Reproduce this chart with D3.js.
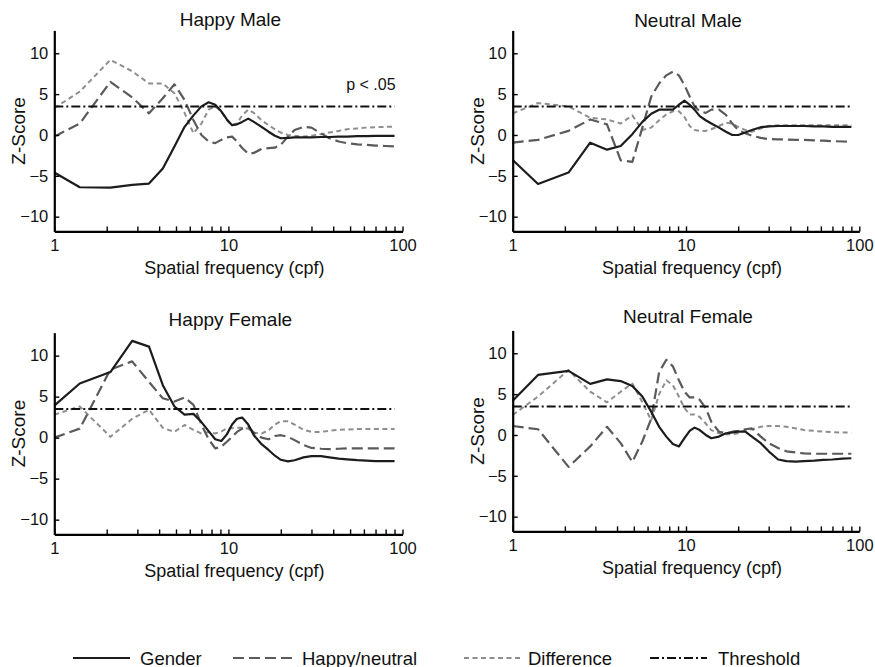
<!DOCTYPE html>
<html>
<head>
<meta charset="utf-8">
<script src="https://cdn.jsdelivr.net/npm/d3@7/dist/d3.min.js"></script>
<style>
  html, body { margin: 0; padding: 0; background: #fff; }
  svg { display: block; font-family: "Liberation Sans", Arial, Helvetica, sans-serif; }
</style>
</head>
<body>
<svg id="chart" width="875" height="667"></svg>
<script>
// ---------------- data ----------------
const freqs = [1,1.4,2.1,2.8,3.5,4.2,4.9,5.6,6.3,7,7.7,8.4,9.1,9.8,10.5,11.2,12,13,14,15.5,17,18.5,20,22,24,27,30,34,38,43,48,55,62,70,80,90];

const panelTitles = ["Happy Male", "Neutral Male", "Happy Female", "Neutral Female"];
const seriesNames = ["Gender", "Happy/neutral", "Difference", "Threshold"];
const thresholdValue = 3.5;
const yTickValues = [-10, -5, 0, 5, 10];
const xTickValues = [1,2,3,4,5,6,7,8,9,10,20,30,40,50,60,70,80,90,100];
const xTickLabels = {1: "1", 10: "10", 100: "100"};

const happyMaleGender  = [-4.6,-6.4,-6.45,-6.1,-5.95,-4.1,-1.4,1.0,2.4,3.5,4.0,3.7,2.9,1.9,1.2,1.3,1.6,2.0,1.6,1.0,0.4,-0.1,-0.4,-0.35,-0.3,-0.3,-0.3,-0.25,-0.25,-0.2,-0.2,-0.15,-0.15,-0.1,-0.1,-0.1];
const happyMaleHappy   = [-0.2,1.4,6.5,4.6,2.65,4.5,6.2,4.3,1.8,0,-0.8,-1.0,-0.6,-0.3,-0.2,-0.8,-1.6,-2.3,-2.2,-1.7,-1.6,-1.55,-1.2,-0.2,0.6,1.0,0.9,0.2,-0.4,-0.8,-1.0,-1.15,-1.2,-1.3,-1.35,-1.4];
const happyMaleDiff    = [3.3,5.3,9.2,7.8,6.3,6.3,5.1,2.7,0.2,1.4,3.1,3.5,2.9,1.8,1.2,1.4,2.4,3.1,2.7,1.8,1.2,0.7,0.3,0,-0.1,-0.2,-0.1,0.1,0.3,0.5,0.7,0.8,0.9,0.95,1.0,1.0];

const neutralMaleGender = [-3.06,-6.0,-4.6,-0.94,-1.8,-1.35,0.1,1.6,2.6,3.1,3.1,3.1,3.7,4.2,3.7,3.1,2.3,1.8,1.4,0.9,0.4,0,0,0.3,0.6,0.95,1.05,1.1,1.1,1.1,1.1,1.05,1.05,1.0,1.0,1.0];
const neutralMaleHappy  = [-0.94,-0.6,0.5,1.9,1.3,-3.1,-3.3,0.9,4.7,6.3,7.3,7.75,7.3,6.1,4.7,3.5,2.9,2.7,3.1,3.1,2.45,1.4,0.6,0.2,-0.1,-0.35,-0.5,-0.55,-0.55,-0.6,-0.6,-0.65,-0.7,-0.75,-0.8,-0.85];
const neutralMaleDiff   = [2.65,3.9,3.5,2.1,1.9,1.4,2.4,0.6,0.9,1.8,2.5,2.9,2.9,2.2,1.1,0.6,0.5,0.5,0.7,1.1,1.5,1.4,1.0,0.6,0.4,0.8,1.1,1.2,1.2,1.2,1.2,1.2,1.2,1.2,1.2,1.2];

const happyFemaleGender = [3.9,6.6,8.0,11.8,11.1,6.4,3.8,2.8,2.9,1.9,0.8,-0.2,-0.4,0.4,1.6,2.3,2.45,1.6,0.3,-0.8,-1.5,-2.2,-2.7,-2.9,-2.75,-2.4,-2.25,-2.25,-2.4,-2.55,-2.65,-2.75,-2.8,-2.85,-2.85,-2.85];
const happyFemaleHappy  = [0,1.1,8.3,9.3,6.8,4.8,4.4,4.9,4.0,1.6,-0.2,-1.3,-1.1,-0.5,0.1,0.7,1.1,1.35,0.6,0,-0.2,0.2,0.3,0.1,-0.3,-0.9,-1.25,-1.35,-1.4,-1.35,-1.3,-1.3,-1.3,-1.3,-1.3,-1.3];
const happyFemaleDiff   = [2.8,3.8,0.1,2.3,3.4,1.2,0.7,1.55,0.95,0.5,0.7,0.5,0.75,1.15,1.15,1.2,1.2,1.1,0.6,0.5,0.9,1.6,2.0,2.0,1.6,0.95,0.7,0.7,0.85,0.95,1.0,1.05,1.05,1.05,1.05,1.05];

const neutralFemaleGender = [4.2,7.35,7.85,6.25,6.8,6.6,6.0,4.7,2.85,1.0,-0.2,-1.1,-1.4,-0.4,0.5,0.9,0.6,0,-0.4,-0.2,0.2,0.3,0.4,0.4,-0.2,-1.0,-2.0,-3.0,-3.2,-3.25,-3.2,-3.15,-3.05,-3.0,-2.9,-2.85];
const neutralFemaleHappy  = [1.1,0.7,-3.9,-1.4,1.0,-1.0,-3.3,-0.8,2.0,7.7,9.2,8.4,6.7,5.3,4.6,4.6,4.3,3.3,1.6,0.4,0.2,0.4,0.5,0.7,0.8,-0.2,-1.0,-1.6,-2.0,-2.15,-2.25,-2.3,-2.3,-2.3,-2.3,-2.3];
const neutralFemaleDiff   = [2.45,4.7,7.95,5.3,4.0,5.3,6.3,4.0,1.8,5.0,6.7,6.1,4.7,3.3,2.5,2.5,2.2,1.4,0.6,0.2,0.1,0.1,0.2,0.6,0.7,1.0,1.1,1.1,1.0,0.8,0.6,0.5,0.4,0.35,0.3,0.3];

const panelSeries = [
  [happyMaleGender, happyMaleHappy, happyMaleDiff],
  [neutralMaleGender, neutralMaleHappy, neutralMaleDiff],
  [happyFemaleGender, happyFemaleHappy, happyFemaleDiff],
  [neutralFemaleGender, neutralFemaleHappy, neutralFemaleDiff]
];

// ---------------- layout / style ----------------
const yDomain = [-11.8, 12.8];
const panels = [
  {left: 54.3,  right: 402.5, top: 30.4,  unit: 8.17, titleY: 26},
  {left: 512.7, right: 859.3, top: 30.4,  unit: 8.17, titleY: 26.5},
  {left: 54.3,  right: 402.5, top: 332.7, unit: 8.2,  titleY: 326},
  {left: 512.7, right: 859.3, top: 330.4, unit: 8.17, titleY: 323}
];
const styles = [
  {color: "#1c1c1c", width: 2.2, dash: null},
  {color: "#5a5a5a", width: 2.2, dash: "11,5"},
  {color: "#8e8e8e", width: 2.0, dash: "5,3.5"},
  {color: "#111111", width: 2.0, dash: "9,3,2,3"}
];
const textColor = "#111";

const svg = d3.select("#chart");

panels.forEach((p, i) => {
  const height = (yDomain[1] - yDomain[0]) * p.unit;
  const bottom = p.top + height;
  const x = d3.scaleLog().domain([1, 100]).range([p.left, p.right]);
  const y = d3.scaleLinear().domain(yDomain).range([bottom, p.top]);
  const g = svg.append("g");

  // lines
  const line = d3.line().x((d) => x(d[0])).y((d) => y(d[1]));
  const thresholdData = [[freqs[0], thresholdValue], [freqs[freqs.length - 1], thresholdValue]];
  const drawOrder = [2, 1, 0];
  drawOrder.forEach((k) => {
    const s = styles[k];
    g.append("path")
      .datum(freqs.map((f, j) => [f, panelSeries[i][k][j]]))
      .attr("d", line)
      .attr("fill", "none")
      .attr("stroke", s.color)
      .attr("stroke-width", s.width)
      .attr("stroke-linejoin", "round")
      .attr("stroke-dasharray", s.dash);
  });
  g.append("path")
    .datum(thresholdData)
    .attr("d", line)
    .attr("fill", "none")
    .attr("stroke", styles[3].color)
    .attr("stroke-width", styles[3].width)
    .attr("stroke-dasharray", styles[3].dash);

  // x axis
  const xAxis = d3.axisBottom(x)
    .tickValues(xTickValues)
    .tickSizeInner(-5)
    .tickSizeOuter(0)
    .tickPadding(8.3)
    .tickFormat((d) => xTickLabels[d] || "");
  const xg = g.append("g").attr("transform", `translate(0,${bottom})`).call(xAxis);
  xg.select(".domain").attr("stroke", "#000").attr("stroke-width", 2.2);
  xg.selectAll(".tick line").attr("stroke", "#000").attr("stroke-width", 1.4);
  xg.selectAll(".tick text").attr("fill", textColor).style("font-size", "16.5px")
    .style("font-family", "'Liberation Sans', Arial, sans-serif");

  // y axis
  const yAxis = d3.axisLeft(y)
    .tickValues(yTickValues)
    .tickSizeInner(-5)
    .tickSizeOuter(0)
    .tickPadding(6)
    .tickFormat(d3.format("d"));
  const yg = g.append("g").attr("transform", `translate(${p.left},0)`).call(yAxis);
  yg.select(".domain").attr("stroke", "#000").attr("stroke-width", 2.2);
  yg.selectAll(".tick line").attr("stroke", "#000").attr("stroke-width", 1.4);
  yg.selectAll(".tick text").attr("fill", textColor).style("font-size", "16.5px")
    .style("font-family", "'Liberation Sans', Arial, sans-serif");

  const cx = (p.left + p.right) / 2;
  // title
  g.append("text")
    .attr("x", cx + 2).attr("y", p.titleY)
    .attr("text-anchor", "middle")
    .attr("fill", textColor)
    .style("font-size", "19px")
    .text(panelTitles[i]);
  // x label
  g.append("text")
    .attr("x", cx + 6).attr("y", bottom + 43)
    .attr("text-anchor", "middle")
    .attr("fill", textColor)
    .style("font-size", "18px")
    .text("Spatial frequency (cpf)");
  // y label
  g.append("text")
    .attr("transform", `translate(${p.left - 29},${(p.top + bottom) / 2}) rotate(-90)`)
    .attr("text-anchor", "middle")
    .attr("fill", textColor)
    .style("font-size", "19px")
    .text("Z-Score");

  if (i === 0) {
    g.append("text")
      .attr("x", x(90) + 1).attr("y", y(thresholdValue) - 16)
      .attr("text-anchor", "end")
      .attr("fill", textColor)
      .style("font-size", "16px")
      .text("p < .05");
  }
});

// ---------------- legend ----------------
const legendY = 658;
const legendItems = [
  {x0: 73,  x1: 130, tx: 140},
  {x0: 233, x1: 293, tx: 302},
  {x0: 464, x1: 520, tx: 528},
  {x0: 650, x1: 707, tx: 718}
];
const lg = svg.append("g");
legendItems.forEach((it, k) => {
  const s = styles[k];
  lg.append("line")
    .attr("x1", it.x0).attr("x2", it.x1)
    .attr("y1", legendY).attr("y2", legendY)
    .attr("stroke", s.color)
    .attr("stroke-width", s.width)
    .attr("stroke-dasharray", s.dash);
  lg.append("text")
    .attr("x", it.tx).attr("y", legendY + 6.5)
    .attr("fill", textColor)
    .style("font-size", "18.5px")
    .text(seriesNames[k]);
});
</script>
</body>
</html>
